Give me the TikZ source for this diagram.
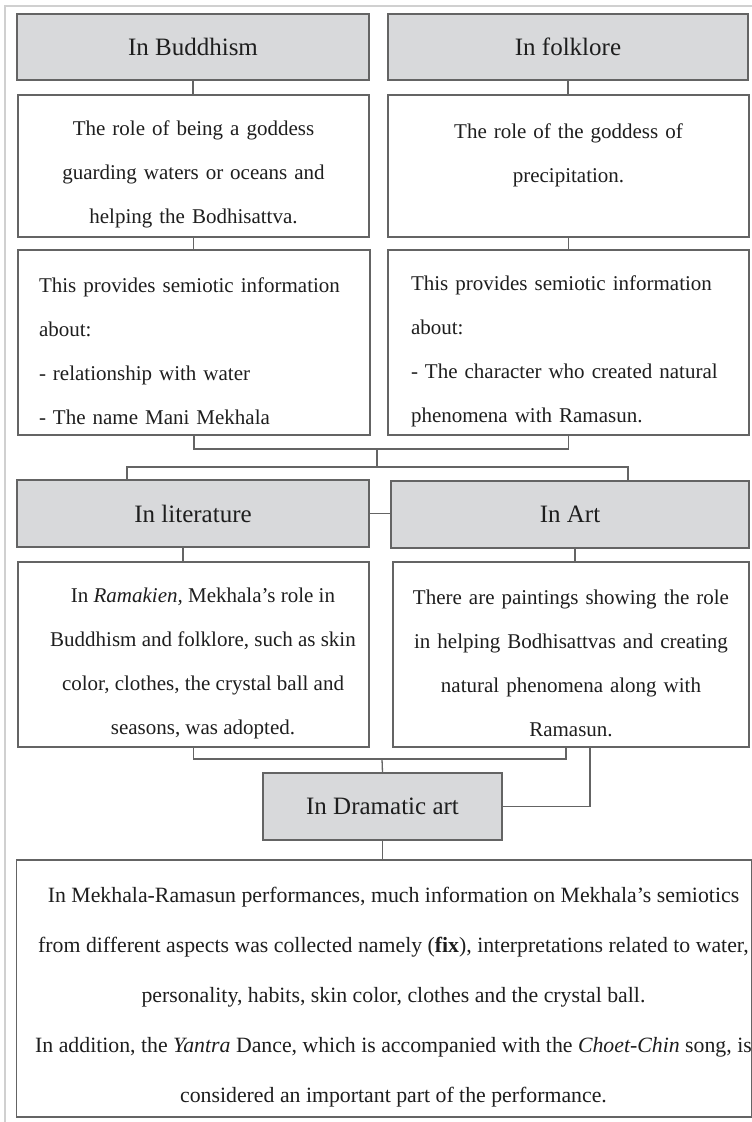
\documentclass[tikz,border=0pt]{standalone}
\usepackage{fontspec}
\setmainfont{Liberation Serif}
\usetikzlibrary{positioning, calc}
\definecolor{headfill}{RGB}{216,217,219}
\definecolor{boxline}{RGB}{100,100,100}
\definecolor{framegray}{RGB}{208,208,208}
\definecolor{inkgray}{RGB}{30,30,30}
\newcommand{\padtop}{\rule{0pt}{32pt}}
\newcommand{\ind}{\hspace*{19pt}}

\begin{document}
\begin{tikzpicture}[x=1pt, y=-1pt,
  head/.style={draw=boxline, line width=1.3pt, fill=headfill, inner sep=0pt, text=inkgray, font=\fontsize{25}{30}\selectfont},
  body/.style={draw=boxline, line width=1.3pt, fill=white, inner xsep=10pt, inner ysep=0pt, align=center, text=inkgray, font=\fontsize{21}{44}\selectfont},
  link/.style={draw=boxline, line width=1.3pt}]
\useasboundingbox (0,0) rectangle (752,1122);

% page frame
\draw[framegray, line width=1.6pt] (752,6) -- (5,6) -- (5,1122);

% Buddhism
\node[head, minimum width=352pt, minimum height=66pt] (bud) at (193,47) {In Buddhism};
\node[body, minimum width=351pt, minimum height=142pt, text width=331pt] (budtxt) at (193.5,166)
  {\padtop The role of being a goddess\\ guarding waters or oceans and\\ helping the Bodhisattva.};
\node[body, align=left, inner xsep=21pt, minimum width=352pt, minimum height=185pt, text width=310pt] (bsem) at (194,342.5)
  {\padtop This provides semiotic information\\ about:\\ - relationship with water\\ - The name Mani Mekhala};

% Folklore
\node[head, minimum width=360pt, minimum height=66pt] (folk) at (568,47) {In folklore};
\node[body, minimum width=361pt, minimum height=142pt, text width=341pt] (folktxt) at (568.5,166)
  {\padtop The role of the goddess of\\ precipitation.\\ \mbox{}};
\node[body, align=left, inner xsep=23pt, minimum width=361pt, minimum height=185pt, text width=315pt] (fsem) at (568.5,342.5)
  {\padtop This provides semiotic information\\ about:\\ - The character who created natural\\ phenomena with Ramasun.};

% Literature and Art
\node[head, minimum width=352pt, minimum height=67pt] (lit) at (193,513.5) {In literature};
\node[head, minimum width=358pt, minimum height=67pt] (art) at (570,514.5) {In Art};
\node[body, minimum width=351pt, minimum height=185pt] (littxt) at (193.5,654.5)
  {\padtop\ind In \textit{Ramakien,} Mekhala's role in\\ \ind Buddhism and folklore, such as skin\\ \ind color, clothes, the crystal ball and\\ \ind seasons, was adopted.};
\node[body, minimum width=356pt, minimum height=185pt, text width=336pt] (arttxt) at (571,654.5)
  {\padtop There are paintings showing the role\\ in helping Bodhisattvas and creating\\ natural phenomena along with\\ Ramasun.};

% Dramatic art
\node[head, minimum width=239pt, minimum height=67pt] (dram) at (382.5,806.5) {In Dramatic art};
\node[body, inner xsep=0pt, minimum width=734pt, minimum height=257pt, font=\fontsize{21.8}{50}\selectfont] (perf) at (384,988.5)
  {\padtop\ind In Mekhala-Ramasun performances, much information on Mekhala's semiotics\\
   \ind from different aspects was collected namely (\textbf{fix}), interpretations related to water,\\
   \ind personality, habits, skin color, clothes and the crystal ball.\\
   \ind In addition, the \textit{Yantra} Dance, which is accompanied with the \textit{Choet-Chin} song, is\\
   \ind considered an important part of the performance.};

% junctions
\coordinate (j1) at (377,449);
\coordinate (j2) at (377,467);
\coordinate (j3) at (382,759);

% connectors
\draw[link] (bud.south) -- (bud.south |- budtxt.north);
\draw[link] (budtxt.south) -- (budtxt.south |- bsem.north);
\draw[link] (folk.south) -- (folk.south |- folktxt.north);
\draw[link] (folktxt.south) -- (folktxt.south |- fsem.north);
\draw[link] (bsem.south) |- (j1) -| (fsem.south);
\draw[link] (j1) -- (j2);
\draw[link] ([xshift=-66pt]lit.north) |- (j2) -| ([xshift=58pt]art.north);
\draw[link] (lit.east) -- (lit.east -| art.west);
\draw[link] ([xshift=-10pt]lit.south) -- ([xshift=-10pt]lit.south |- littxt.north);
\draw[link] ([xshift=5pt]art.south) -- ([xshift=5pt]art.south |- arttxt.north);
\draw[link] (littxt.south) |- (j3) -| ([xshift=-5pt]arttxt.south);
\draw[link] (j3) -- (dram.north);
\draw[link] ([xshift=19pt]arttxt.south) |- (dram.east);
\draw[link] (dram.south) -- (dram.south |- perf.north);

\end{tikzpicture}
\end{document}
